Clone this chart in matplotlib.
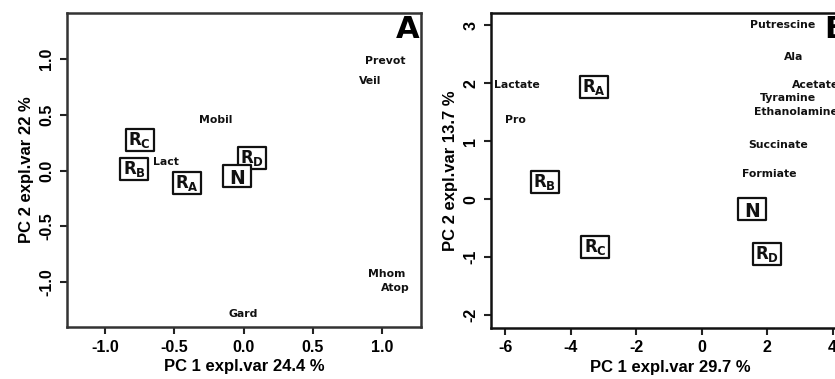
import matplotlib
matplotlib.use("Agg")
import matplotlib.pyplot as plt
from matplotlib.path import Path

plt.rcParams['mathtext.fontset'] = 'dejavusans'

# Panel A
a_vars = ["Prevot", "Veil", "Mobil", "Lact", "Mhom", "Atop", "Gard"]
a_vx = [1.02, 0.915, -0.20, -0.56, 1.035, 1.096, 0.0]
a_vy = [0.985, 0.805, 0.454, 0.074, -0.93, -1.06, -1.293]
a_grp = [r"$\mathbf{R_C}$", r"$\mathbf{R_B}$", r"$\mathbf{R_A}$", r"$\mathbf{R_D}$", "N"]
a_gx = [-0.75, -0.79, -0.41, 0.06, -0.05]
a_gy = [0.277, 0.016, -0.115, 0.11, -0.052]
a_xticks = [-1.0, -0.5, 0.0, 0.5, 1.0]
a_yticks = [-1.0, -0.5, 0.0, 0.5, 1.0]

# Panel B
b_vars = ["Putrescine", "Ala", "Acetate", "Tyramine", "Ethanolamine",
          "Succinate", "Formiate", "Lactate", "Pro"]
b_vx = [2.48, 2.81, 3.49, 2.65, 2.88, 2.35, 2.07, -5.63, -5.68]
b_vy = [3.006, 2.45, 1.977, 1.741, 1.506, 0.937, 0.443, 1.966, 1.368]
b_grp = [r"$\mathbf{R_A}$", r"$\mathbf{R_B}$", r"$\mathbf{R_C}$", "N", r"$\mathbf{R_D}$"]
b_gx = [-3.29, -4.78, -3.24, 1.536, 2.01]
b_gy = [1.937, 0.299, -0.825, -0.172, -0.948]
b_xticks = [-6, -4, -2, 0, 2, 4]
b_yticks = [-2, -1, 0, 1, 2, 3]

# rectangular marker shape (aspect 29:23)
rect = Path([(-1.26, -1.0), (1.26, -1.0), (1.26, 1.0), (-1.26, 1.0), (-1.26, -1.0)],
            [Path.MOVETO, Path.LINETO, Path.LINETO, Path.LINETO, Path.CLOSEPOLY])

fig = plt.figure(figsize=(8.35, 3.79), dpi=100)
axA = fig.add_axes([0.0802, 0.1372, 0.424, 0.8285])
axB = fig.add_axes([0.588, 0.1346, 0.4287, 0.831])

TF = "Liberation Sans"

def draw(ax, vars_, vx, vy, grp, gx, gy, xt, yt, xlim, ylim, xlabel, ylabel, letter, frame):
    for s, x, y in zip(vars_, vx, vy):
        ax.text(x, y, s, ha='center', va='center', fontsize=7.8,
                fontweight='bold', family='DejaVu Sans', color='#111')
    ax.scatter(gx, gy, marker=rect, s=430, facecolor='white', edgecolor='#111',
               linewidth=1.6, zorder=3)
    for s, x, y in zip(grp, gx, gy):
        if s == "N":
            ax.text(x, y, s, ha='center', va='center_baseline', fontsize=13.5,
                    fontweight='bold', family='DejaVu Sans', color='#111', zorder=4)
        else:
            ax.text(x, y, s, ha='center', va='center', fontsize=12,
                    color='#111', zorder=4)
    ax.set_xlim(*xlim)
    ax.set_ylim(*ylim)
    ax.set_xticks(xt)
    ax.set_yticks(yt)
    ax.set_xticklabels([("%g" % v if isinstance(v, int) else "%.1f" % v) for v in xt],
                       fontsize=11.5, fontweight='bold', family=TF)
    ax.set_yticklabels([("%g" % v if isinstance(v, int) else "%.1f" % v) for v in yt],
                       fontsize=11.5, fontweight='bold', family=TF, rotation=90, va='center')
    ax.tick_params(direction='out', length=5, width=1.5, pad=4, color='#222')
    for sp in ax.spines.values():
        sp.set_linewidth(1.8)
        sp.set_color(frame)
    ax.set_xlabel(xlabel, fontsize=12, fontweight='bold', family=TF, labelpad=3)
    ax.set_ylabel(ylabel, fontsize=12, fontweight='bold', family=TF, labelpad=4)
    ax.text(0.995, 0.995, letter, transform=ax.transAxes, ha='right', va='top',
            fontsize=22, fontweight='bold', family='DejaVu Sans', color='black', zorder=5)

draw(axA, a_vars, a_vx, a_vy, a_grp, a_gx, a_gy, a_xticks, a_yticks,
     (-1.274, 1.28), (-1.407, 1.416), "PC 1 expl.var 24.4 %", "PC 2 expl.var 22 %", "A", '#333')
draw(axB, b_vars, b_vx, b_vy, b_grp, b_gx, b_gy, b_xticks, b_yticks,
     (-6.43, 4.5), (-2.22, 3.21), "PC 1 expl.var 29.7 %", "PC 2 expl.var 13.7 %", "B", '#111')

fig.savefig("out.png", dpi=100)
